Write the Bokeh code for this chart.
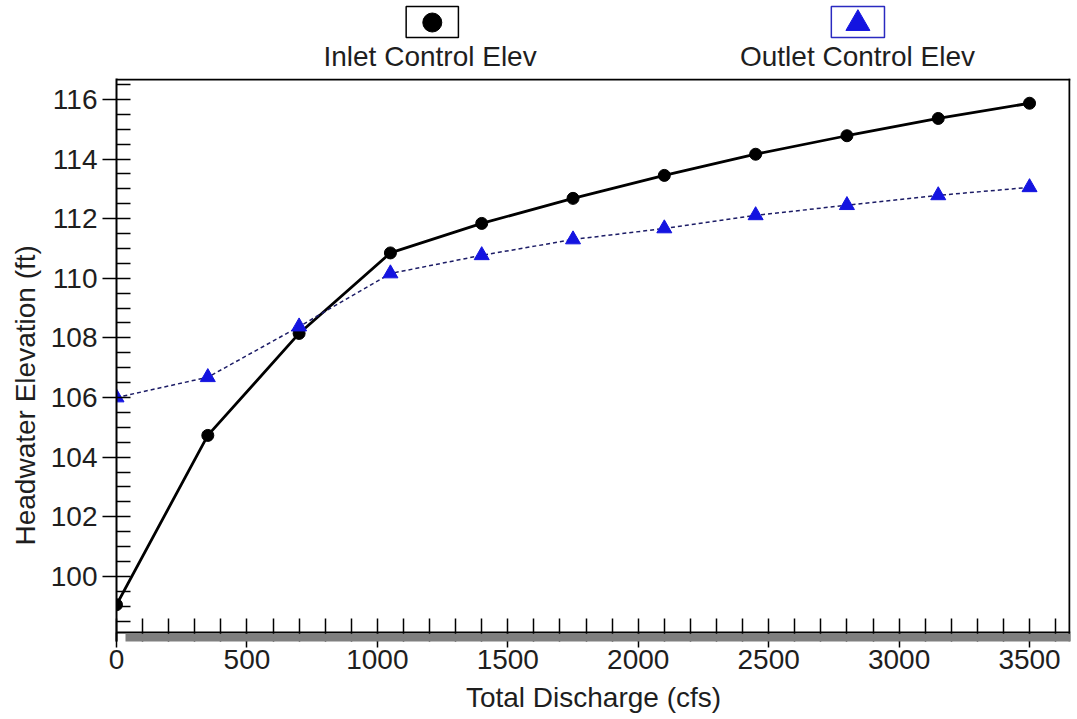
from bokeh.plotting import figure
from bokeh.layouts import column
from bokeh.models import Range1d, SingleIntervalTicker, FixedTicker, Span, Title
from bokeh.core.properties import value
from bokeh.embed import file_html
from bokeh.resources import INLINE

# ---- data ----
discharge = [0, 350, 700, 1050, 1400, 1750, 2100, 2450, 2800, 3150, 3500]
inlet_elev = [99.05, 104.73, 108.15, 110.85, 111.84, 112.68, 113.45, 114.16, 114.78, 115.36, 115.87]
outlet_elev = [106.0, 106.68, 108.38, 110.16, 110.77, 111.30, 111.67, 112.11, 112.45, 112.78, 113.05]
series_names = ["Inlet Control Elev", "Outlet Control Elev"]
y_ticks = [100, 102, 104, 106, 108, 110, 112, 114, 116]
x_title = "Total Discharge (cfs)"
y_title = "Headwater Elevation (ft)"

FONT = "Liberation Sans"
TXT = "#1e1e1e"
BLUE = "#1414e0"
DASH_COL = "#1c1c66"

W = 1077
LEG_H = 76
MAIN_H = 719 - LEG_H
FR_L, FR_R, FR_T = 116, 1070, 78      # frame edges (page pixels)
AX_Y = 632                            # x-axis line (page pixels)
BAR = 9                               # grey shadow band below the axis line

x0, x1 = 0, 3657
y_axis_val, y1 = 98.12, 116.7
px_x = (FR_R - FR_L) / (x1 - x0)
px_y = (AX_Y - FR_T) / (y1 - y_axis_val)
y0 = y_axis_val - BAR / px_y
FR_B = AX_Y + BAR

# ---- legend strip ----
leg = figure(width=W, height=LEG_H, x_range=Range1d(0, W), y_range=Range1d(LEG_H, 0),
             toolbar_location=None, output_backend="svg", min_border=0,
             x_axis_type=None, y_axis_type=None)
leg.outline_line_color = None
leg.grid.visible = False
leg.background_fill_color = "white"
leg.border_fill_color = "white"

leg_cx = [356.5, 837]
leg.rect(x=leg_cx, y=[21.5, 21.5], width=[59, 60], height=[31, 31],
         fill_color="white", line_color=["black", "#2a2ac0"], line_width=1.5)
leg.scatter(x=[leg_cx[0]], y=[22], marker="circle", size=19, color="black")
leg.scatter(x=[leg_cx[1]], y=[23], marker="triangle", size=24, fill_color=BLUE, line_color=BLUE)
leg.text(x=[354, 836.5], y=[56, 56], text=series_names, text_align="center",
         text_baseline="middle", text_font=value(FONT), text_font_size="28px",
         text_color=TXT)

# ---- main plot ----
p = figure(width=W, height=MAIN_H, x_range=Range1d(x0, x1), y_range=Range1d(y0, y1),
           toolbar_location=None, output_backend="svg",
           min_border_left=FR_L, min_border_right=W - FR_R,
           min_border_top=FR_T - LEG_H, min_border_bottom=MAIN_H - (FR_B - LEG_H))
p.grid.visible = False
p.background_fill_color = "white"
p.border_fill_color = "white"
p.outline_line_color = None

p.xaxis.ticker = SingleIntervalTicker(interval=500, num_minor_ticks=5)
y_minor = [98.5 + 0.5 * i for i in range(int((y1 - 98.5) / 0.5) + 1)]
p.yaxis.ticker = FixedTicker(ticks=y_ticks, minor_ticks=y_minor)
for ax in (p.xaxis, p.yaxis):
    ax.axis_line_color = "black"
    ax.axis_line_width = 2
    ax.major_tick_line_color = "black"
    ax.minor_tick_line_color = "black"
    ax.major_tick_line_width = 1.5
    ax.minor_tick_line_width = 1.5
    ax.major_label_text_font = FONT
    ax.major_label_text_font_size = "28px"
    ax.major_label_text_color = TXT
    ax.axis_label_text_font = FONT
    ax.axis_label_text_font_size = "28px"
    ax.axis_label_text_font_style = "normal"
    ax.axis_label_text_color = TXT
p.yaxis.major_tick_out = 14
p.yaxis.major_tick_in = 0
p.yaxis.minor_tick_in = 14
p.yaxis.minor_tick_out = 0
p.yaxis.major_label_standoff = 5

# x axis sits at the frame bottom (below the grey band); ticks offset up to the black line
p.xaxis.axis_line_color = None
p.xaxis.major_tick_in = BAR
p.xaxis.major_tick_out = 6
p.xaxis.minor_tick_in = 14 + BAR
p.xaxis.minor_tick_out = 0
p.xaxis.major_label_standoff = 2
p.xaxis.axis_label = x_title
p.xaxis.axis_label_standoff = 10

# y title, placed lower than the frame centre as in the reference
p.add_layout(Title(text=y_title, align="left", offset=96, text_font=FONT,
                   text_font_size="28px", text_font_style="normal",
                   text_color=TXT, standoff=14), "left")

# frame lines: top, right and the black x-axis line
p.add_layout(Span(location=y1 - 1 / px_y, dimension="width", line_color="black", line_width=2))
p.add_layout(Span(location=x1 - 1 / px_x, dimension="height", line_color="black", line_width=2))
p.add_layout(Span(location=y_axis_val, dimension="width", line_color="black", line_width=2))

# series
p.line(discharge, inlet_elev, line_color="black", line_width=2.8)
p.scatter(discharge, inlet_elev, marker="circle", size=12, color="black")
p.line(discharge, outlet_elev, line_color=DASH_COL, line_width=1.5, line_dash="4 3")
p.scatter(discharge, outlet_elev, marker="triangle", size=15, fill_color=BLUE, line_color=BLUE)

# grey shadow band just under the x-axis line (drawn over the tick stubs)
band = p.quad(left=[x0 + 9 / px_x], right=[x1], bottom=[y0], top=[y_axis_val - 1.2 / px_y],
              fill_color="#7f7f7f", line_color=None)
band.level = "overlay"

layout = column(leg, p, spacing=0)
open("out.html", "w").write(file_html(layout, INLINE))
